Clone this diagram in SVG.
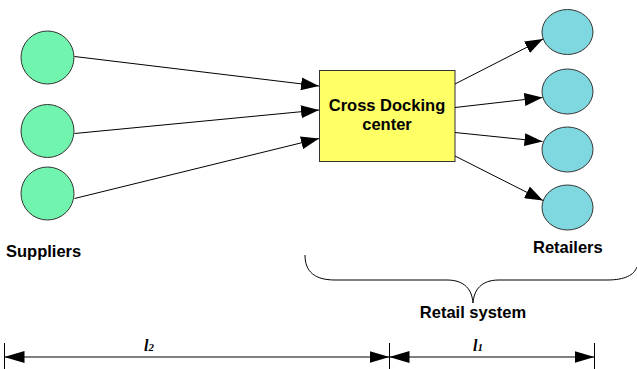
<svg xmlns="http://www.w3.org/2000/svg" width="637" height="369" viewBox="0 0 637 369">
<style>
.sup{fill:#70F4AE;stroke:#333;stroke-width:1}
.ret{fill:#7FD8E0;stroke:#333;stroke-width:1}
.box{fill:#FFFF66;stroke:#333;stroke-width:1}
.lbl{font-family:"Liberation Sans",Arial,sans-serif;font-weight:bold;font-size:16.5px;fill:#000}
.dim{font-family:"Liberation Serif","Times New Roman",serif;font-style:italic;font-weight:bold;fill:#000}
.edge{stroke:#000;stroke-width:1;fill:none;marker-end:url(#ah)}
.dline{stroke:#000;stroke-width:1;fill:none}
</style>
<defs>
<marker id="ah" viewBox="0 0 18 13" refX="18" refY="6.5" markerWidth="18" markerHeight="13" markerUnits="userSpaceOnUse" orient="auto">
<path d="M0,0 L18,6.5 L0,13 z" fill="#000"/>
</marker>
<marker id="dh" viewBox="0 0 20 12" refX="20" refY="6" markerWidth="20" markerHeight="12" markerUnits="userSpaceOnUse" orient="auto-start-reverse">
<path d="M0,0 L20,6 L0,12 z" fill="#000"/>
</marker>
</defs>
<g id="supplier1"><circle class="sup" cx="47.5" cy="57.5" r="26.5"/></g>
<g id="supplier2"><circle class="sup" cx="47.5" cy="131" r="26.5"/></g>
<g id="supplier3"><circle class="sup" cx="47.5" cy="193.5" r="26.5"/></g>
<g id="cdc">
<rect class="box" x="319.5" y="70.5" width="135.5" height="91"/>
<text class="lbl" x="387" y="111" text-anchor="middle">Cross Docking</text>
<text class="lbl" x="387" y="130" text-anchor="middle">center</text>
</g>
<g id="retailer1"><ellipse class="ret" cx="567.5" cy="32" rx="25.5" ry="22.5"/></g>
<g id="retailer2"><ellipse class="ret" cx="567.5" cy="91.5" rx="25.5" ry="22.5"/></g>
<g id="retailer3"><ellipse class="ret" cx="567.5" cy="149.5" rx="25.5" ry="22.5"/></g>
<g id="retailer4"><ellipse class="ret" cx="567.5" cy="207.5" rx="25.5" ry="22.5"/></g>
<g id="connectors">
<line class="edge" x1="74.5" y1="56.5" x2="319" y2="86"/>
<line class="edge" x1="74.5" y1="133.5" x2="319" y2="110"/>
<line class="edge" x1="74.5" y1="198.5" x2="319" y2="138.5"/>
<line class="edge" x1="455" y1="84" x2="543" y2="39"/>
<line class="edge" x1="455" y1="107.5" x2="542.5" y2="97.5"/>
<line class="edge" x1="455" y1="132.5" x2="542.5" y2="141.5"/>
<line class="edge" x1="455" y1="156" x2="543" y2="200.5"/>
</g>
<g id="labels">
<text class="lbl" x="6" y="256.5">Suppliers</text>
<text class="lbl" x="533" y="252.5">Retailers</text>
</g>
<g id="brace">
<path class="dline" d="M305,255 C305,272 315,280 335,280 L447,280 C465,280 472,290 473,303 C474,290 481,280 499,280 L607,280 C625,280 634,275 637,267"/>
<text class="lbl" x="473" y="317.5" text-anchor="middle">Retail system</text>
</g>
<g id="dimensions">
<line class="dline" x1="4.5" y1="343" x2="4.5" y2="369"/>
<line class="dline" x1="389.5" y1="343" x2="389.5" y2="369"/>
<line class="dline" x1="594.5" y1="343" x2="594.5" y2="369"/>
<line class="dline" x1="4.5" y1="357" x2="389.5" y2="357" marker-start="url(#dh)" marker-end="url(#dh)"/>
<line class="dline" x1="389.5" y1="357" x2="594.5" y2="357" marker-start="url(#dh)" marker-end="url(#dh)"/>
<text class="dim" x="144" y="351" font-size="16">l<tspan font-size="11">2</tspan></text>
<text class="dim" x="473" y="351" font-size="16">l<tspan font-size="11">1</tspan></text>
</g>
</svg>
